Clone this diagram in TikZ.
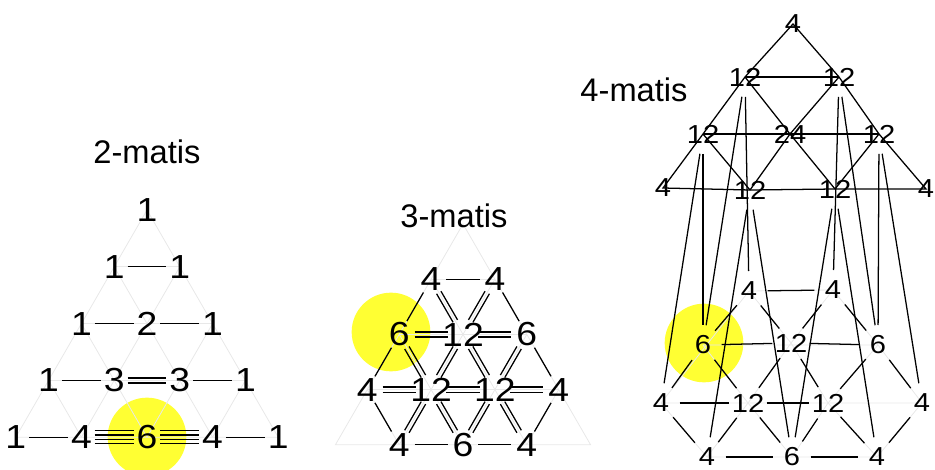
\documentclass[tikz,border=0pt]{standalone}
\usepackage{fontspec}
\setmainfont{Liberation Sans}
\newfontfamily\numfont{Liberation Sans}[FakeStretch=1.12]
\usetikzlibrary{calc}
\usetikzlibrary{backgrounds}
\definecolor{myellow}{RGB}{255,255,51}
\definecolor{lattice}{RGB}{232,232,232}
\tikzset{
  num/.style = {inner sep = 0, font = \numfont\fontsize{25}{28}\selectfont},
  snum/.style = {inner sep = 0, font = \numfont\fontsize{19.5}{22}\selectfont},
  ttl/.style = {inner sep = 0, font = \fontsize{24.5}{28}\selectfont},
  latline/.style = {lattice, line width = 0.6pt},
  bond/.style = {line width = 0.95pt, shorten <= #1, shorten >= #1},
  spot/.style = {fill = myellow},
}
\newcommand{\bonds}[4]{%
  \foreach \o in {#4}
    \draw[bond=#1] ($(#2)!\o!90:(#3)$) -- ($(#3)!\o!-90:(#2)$);
}

\begin{document}
\begin{tikzpicture}[x=0.75pt, y=-0.75pt]
    \useasboundingbox (0,0) rectangle (935,470);

    \node[ttl] (ttl2) at (147,152) {2-matis};
    \node[ttl] (ttl3) at (454,216) {3-matis};
    \node[ttl] (ttl4) at (634,90) {4-matis};

    % 2-matis
    \node[num] (L00) at (147,210) {1};
    \node[num] (L10) at (114.2,266.8) {1};
    \node[num] (L11) at (179.8,266.8) {1};
    \node[num] (L20) at (81.4,323.6) {1};
    \node[num] (L21) at (147,323.6) {2};
    \node[num] (L22) at (212.6,323.6) {1};
    \node[num] (L30) at (48.6,380.4) {1};
    \node[num] (L31) at (114.2,380.4) {3};
    \node[num] (L32) at (179.8,380.4) {3};
    \node[num] (L33) at (245.4,380.4) {1};
    \node[num] (L40) at (15.8,437.2) {1};
    \node[num] (L41) at (81.4,437.2) {4};
    \node[num] (L42) at (147,437.2) {6};
    \node[num] (L43) at (212.6,437.2) {4};
    \node[num] (L44) at (278.2,437.2) {1};

    % 3-matis
    \coordinate (M00) at (463,224);
    \node[num] (M10) at (431.1,279.2) {4};
    \node[num] (M11) at (494.9,279.2) {4};
    \node[num] (M20) at (399.2,334.4) {6};
    \node[num] (M21) at (463,334.4) {12};
    \node[num] (M22) at (526.8,334.4) {6};
    \node[num] (M30) at (367.3,389.6) {4};
    \node[num] (M31) at (431.1,389.6) {12};
    \node[num] (M32) at (494.9,389.6) {12};
    \node[num] (M33) at (558.7,389.6) {4};
    \coordinate (M40) at (335.4,444.8);
    \node[num] (M41) at (399.2,444.8) {4};
    \node[num] (M42) at (463,444.8) {6};
    \node[num] (M43) at (526.8,444.8) {4};
    \coordinate (M44) at (590.6,444.8);

    % 4-matis, top
    \node[snum] (t0) at (793,24) {4};
    \node[snum] (t1a) at (745,77) {12};
    \node[snum] (t1b) at (839,77) {12};
    \node[snum] (t2a) at (703,134) {12};
    \node[snum] (t2b) at (790,134) {24};
    \node[snum] (t2c) at (879,134) {12};
    \node[snum] (t3a) at (663,188) {4};
    \node[snum] (t3b) at (750,190) {12};
    \node[snum] (t3c) at (835,189) {12};
    \node[snum] (t3d) at (926,189) {4};

    % 4-matis, bottom
    \node[snum] (b0a) at (749,291) {4};
    \node[snum] (b0b) at (833,290) {4};
    \node[snum] (b1a) at (703,345) {6};
    \node[snum] (b1b) at (791,343) {12};
    \node[snum] (b1c) at (878,345) {6};
    \node[snum] (b2a) at (661,403) {4};
    \node[snum] (b2b) at (748,403) {12};
    \node[snum] (b2c) at (828,403) {12};
    \node[snum] (b2d) at (922,403) {4};
    \node[snum] (b3a) at (707,457) {4};
    \node[snum] (b3b) at (792,457) {6};
    \node[snum] (b3c) at (877,457) {4};

    \begin{scope}[on background layer]
      \fill[spot] (147,437) circle (29.5pt);
      \fill[spot] (391,332) circle (29.5pt);
      \fill[spot] (704,343) circle (29.5pt);

      \draw[latline] (L00.center) -- (L40.center) -- (L44.center) -- cycle;
      \draw[latline] (L10.center) -- (L11.center) (L20.center) -- (L22.center) (L30.center) -- (L33.center);
      \draw[latline] (L11.center) -- (L41.center) (L22.center) -- (L42.center) (L33.center) -- (L43.center);
      \draw[latline] (L10.center) -- (L43.center) (L20.center) -- (L42.center) (L30.center) -- (L41.center);

      \draw[latline] (M00) -- (M40) -- (M44) -- cycle;
      \draw[latline] (M10.center) -- (M11.center) (M20.center) -- (M22.center) (M30.center) -- (M33.center);
      \draw[latline] (M11.center) -- (M41.center) (M22.center) -- (M42.center) (M33.center) -- (M43.center);
      \draw[latline] (M10.center) -- (M43.center) (M20.center) -- (M42.center) (M30.center) -- (M41.center);

      \draw[latline] (b0a.center) -- (b0b.center) (b1a.center) -- (b1c.center) (b2a.center) -- (b2d.center) (b3a.center) -- (b3c.center);
      \draw[latline] (b0a.center) -- (b2a.center) (b0b.center) -- (b1b.center) -- (b2b.center) -- (b3a.center)
        (b1c.center) -- (b2c.center) -- (b3b.center) (b2d.center) -- (b3c.center);
      \draw[latline] (b0b.center) -- (b1c.center) -- (b2d.center) (b0a.center) -- (b1b.center) -- (b2c.center) -- (b3c.center)
        (b1a.center) -- (b2b.center) -- (b3b.center) (b2a.center) -- (b3a.center);

      \bonds{10pt}{L10}{L11}{0pt}
      \bonds{10pt}{L20}{L21}{0pt}
      \bonds{10pt}{L21}{L22}{0pt}
      \bonds{10pt}{L30}{L31}{0pt}
      \bonds{10pt}{L31}{L32}{-1.9pt,1.9pt}
      \bonds{10pt}{L32}{L33}{0pt}
      \bonds{10pt}{L40}{L41}{0pt}
      \bonds{10pt}{L41}{L42}{-4.95pt,-1.65pt,1.65pt,4.95pt}
      \bonds{10pt}{L42}{L43}{-4.95pt,-1.65pt,1.65pt,4.95pt}
      \bonds{10pt}{L43}{L44}{0pt}

      \foreach \a/\b in {M10/M11, M41/M42, M42/M43, M10/M20, M20/M30, M33/M43, M11/M22, M22/M33, M30/M41}
        {\bonds{11.5pt}{\a}{\b}{0pt}}
      \foreach \a/\b in {M20/M21, M21/M22, M30/M31, M31/M32, M32/M33, M11/M21, M21/M31, M22/M32,
                         M31/M41, M32/M42, M10/M21, M20/M31, M21/M32, M31/M42, M32/M43}
        {\bonds{11.5pt}{\a}{\b}{-1.9pt,1.9pt}}

      \draw[line width=0.95pt] (t0.center) -- (t1a.center) -- (t2a.center) -- (t3a.center) -- (t3b.center) -- (t3c.center)
        -- (t3d.center) -- (t2c.center) -- (t1b.center) -- cycle;
      \draw[line width=0.95pt] (t1a.center) -- (t1b.center) (t2a.center) -- (t2b.center) -- (t2c.center);
      \draw[line width=0.95pt] (t1a.center) -- (t2b.center) -- (t3c.center) (t1b.center) -- (t2b.center) -- (t3b.center);
      \draw[line width=0.95pt] (t2a.center) -- (t3b.center) (t2c.center) -- (t3c.center);

      \foreach \a/\b in {b0a/b0b, b1a/b1b, b1b/b1c, b2a/b2b, b2b/b2c, b3a/b3b, b3b/b3c,
                         b0a/b1a, b1a/b2a, b0b/b1b, b1b/b2b, b2b/b3a, b1c/b2c, b2c/b3b, b2d/b3c,
                         b0a/b1b, b1b/b2c, b2c/b3c, b0b/b1c, b1c/b2d, b1a/b2b, b2b/b3b, b2a/b3a}
        {\bonds{14pt}{\a}{\b}{0pt}}

      \foreach \a/\b in {t2a/b2a, t2a/b1a, t1a/b1a, t1a/b0a, t3b/b3a, t3b/b3b,
                         t1b/b0b, t1b/b1c, t3c/b3b, t3c/b3c, t2c/b1c, t2c/b2d}
        {\bonds{15pt}{\a}{\b}{0pt}}
    \end{scope}
\end{tikzpicture}
\end{document}
